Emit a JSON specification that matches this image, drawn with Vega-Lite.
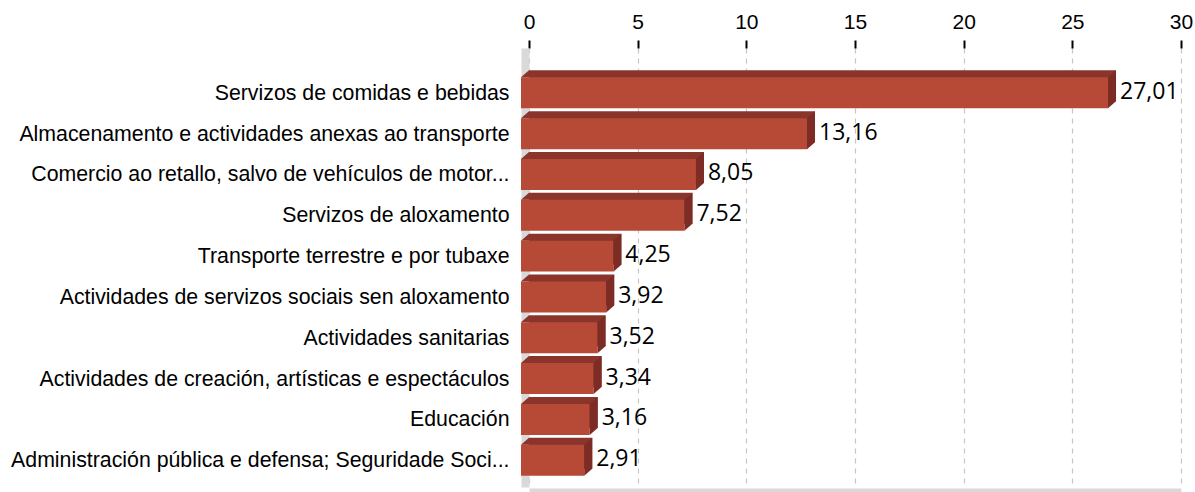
{
  "$schema": "https://vega.github.io/schema/vega-lite/v6.json",
  "autosize": {"type": "none"},
  "padding": {"left": 529, "top": 48, "right": 14, "bottom": 5},
  "width": 652,
  "height": 439,
  "background": "white",
  "config": {
    "view": {"stroke": null},
    "locale": {"number": {"decimal": ",", "thousands": ".", "grouping": [3], "currency": ["", " €"]}}
  },
  "data": {"values": [
    {"sector": "Servizos de comidas e bebidas", "valor": 27.01},
    {"sector": "Almacenamento e actividades anexas ao transporte", "valor": 13.16},
    {"sector": "Comercio ao retallo, salvo de vehículos de motor...", "valor": 8.05},
    {"sector": "Servizos de aloxamento", "valor": 7.52},
    {"sector": "Transporte terrestre e por tubaxe", "valor": 4.25},
    {"sector": "Actividades de servizos sociais sen aloxamento", "valor": 3.92},
    {"sector": "Actividades sanitarias", "valor": 3.52},
    {"sector": "Actividades de creación, artísticas e espectáculos", "valor": 3.34},
    {"sector": "Educación", "valor": 3.16},
    {"sector": "Administración pública e defensa; Seguridade Soci...", "valor": 2.91}
  ]},
  "encoding": {
    "y": {
      "field": "sector", "type": "nominal", "sort": null,
      "scale": {"paddingInner": 0.241, "paddingOuter": 0.4965, "align": 0.723},
      "axis": {
        "title": null, "ticks": false, "grid": false,
        "domain": true, "domainColor": "#d9d9d9", "domainWidth": 8, "offset": 4,
        "labelPadding": 16, "labelOffset": 1, "labelFont": "Liberation Sans", "labelFontSize": 21.3,
        "labelColor": "#000000", "labelLimit": 600
      }
    }
  },
  "resolve": {"axis": {"x": "independent"}},
  "layer": [
    {
      "mark": {"type": "bar", "color": "#8a342b", "yOffset": -7, "y2Offset": -7},
      "encoding": {
        "x": {
          "field": "valor", "type": "quantitative",
          "scale": {"domain": [0, 30], "nice": false},
          "axis": {
            "orient": "top", "values": [0, 5, 10, 15, 20, 25, 30], "title": null,
            "domain": false, "ticks": true, "tickColor": "#000000", "tickWidth": 2, "tickSize": 8,
            "grid": true, "gridColor": "#c6c6c6", "gridDash": [5, 5], "gridWidth": 1.2,
            "labelFlush": false, "labelOverlap": false,
            "labelFont": "Liberation Sans", "labelFontSize": 21, "labelColor": "#000000", "labelPadding": 8
          }
        }
      }
    },
    {
      "mark": {"type": "point", "filled": true, "opacity": 1, "strokeWidth": 0, "color": "#8a342b",
               "shape": "M-8,-15.5L0,-22.5L0,-15.5Z", "size": 4},
      "encoding": {
        "x": {"datum": 0, "type": "quantitative", "axis": null}
      }
    },
    {
      "mark": {"type": "bar", "color": "#b74a37", "xOffset": -8, "x2Offset": -8},
      "encoding": {
        "x": {
          "field": "valor", "type": "quantitative",
          "axis": {
            "orient": "bottom", "title": null, "labels": false, "ticks": false, "grid": false,
            "domain": true, "domainColor": "#d9d9d9", "domainWidth": 4, "offset": 3
          }
        }
      }
    },
    {
      "mark": {"type": "point", "filled": true, "opacity": 1, "strokeWidth": 0, "color": "#7d2c25",
               "shape": "M-8,-15.5L0,-22.5L0,8.5L-8,15.5Z", "size": 4},
      "encoding": {
        "x": {"field": "valor", "type": "quantitative", "axis": null}
      }
    },
    {
      "mark": {"type": "text", "align": "left", "baseline": "middle", "dx": 4, "dy": -1,
               "font": "Open Sans", "fontSize": 23, "color": "#000000"},
      "encoding": {
        "x": {"field": "valor", "type": "quantitative", "axis": null},
        "text": {"field": "valor", "type": "quantitative", "format": ".2f"}
      }
    }
  ]
}
